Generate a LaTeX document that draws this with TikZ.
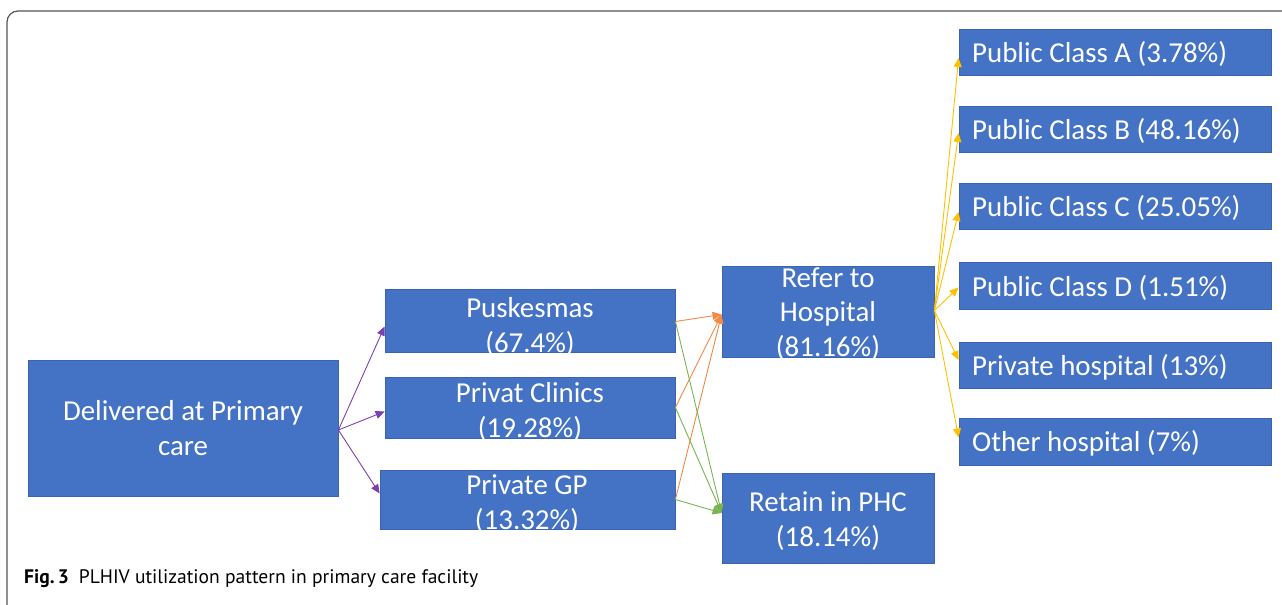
\documentclass[tikz,border=0pt]{standalone}
\usepackage{fontspec}
\setmainfont{Carlito}
\newfontfamily\capfont{PT Sans}
\usetikzlibrary{arrows.meta,calc}
\definecolor{boxblue}{HTML}{4472C4}
\definecolor{boxedge}{HTML}{3A64B0}
\definecolor{purp}{HTML}{7B3FB0}
\definecolor{oran}{HTML}{F08A45}
\definecolor{gree}{HTML}{78B450}
\definecolor{yell}{HTML}{FFC000}
\definecolor{frame}{HTML}{555555}
\tikzset{
  box/.style={draw=boxedge, line width=0.8bp, fill=boxblue, inner sep=0pt},
  btext/.style={text=white, align=center, inner sep=0pt, font=\fontsize{29}{35}\selectfont},
  rtext/.style={text=white, anchor=west, inner sep=0pt, font=\fontsize{29}{35}\selectfont},
  conn/.style={line width=0.9bp, -{Triangle[length=9bp,width=8bp]}},
}
\begin{document}
\begin{tikzpicture}[x=1bp,y=-1bp]
\useasboundingbox (0,0) rectangle (1282,605);
% frame
\draw[frame, line width=1.2bp, rounded corners=11bp] (7,605) -- (7,11) -- (1282,11);
% boxes
\node[box, minimum width=310bp, minimum height=136bp] (del) at (183,428) {};
\node[box, minimum width=290bp, minimum height=63bp] (pus) at (530,320.5) {};
\node[box, minimum width=290bp, minimum height=61bp] (cli) at (530,407.5) {};
\node[box, minimum width=295bp, minimum height=59bp] (gp) at (527.5,499.5) {};
\node[box, minimum width=212bp, minimum height=91bp] (ref) at (828,311.5) {};
\node[box, minimum width=212bp, minimum height=90bp] (ret) at (828,518) {};
\node[box, minimum width=312bp, minimum height=46bp] (ca) at (1115,52) {};
\node[box, minimum width=312bp, minimum height=46bp] (cb) at (1115,129) {};
\node[box, minimum width=312bp, minimum height=46bp] (cc) at (1115,206) {};
\node[box, minimum width=312bp, minimum height=47bp] (cd) at (1115,285.5) {};
\node[box, minimum width=312bp, minimum height=46bp] (cp) at (1115,365) {};
\node[box, minimum width=312bp, minimum height=47bp] (co) at (1115,441.5) {};
% texts
\node[btext] (tdel) at (183,428) {Delivered at Primary\\care};
\node[btext] (tpus) at (530,327) {Puskesmas\\(67.4\%)};
\node[btext] (tcli) at (530,412) {Privat Clinics\\(19.28\%)};
\node[btext] (tgp) at (527,504) {Private GP\\(13.32\%)};
\node[btext] (tref) at (828,314) {Refer to\\Hospital\\(81.16\%)};
\node[btext] (tret) at (828,521) {Retain in PHC\\(18.14\%)};
\node[rtext] (tca) at (972,54) {Public Class A (3.78\%)};
\node[rtext] (tcb) at (972,131) {Public Class B (48.16\%)};
\node[rtext] (tcc) at (972,208) {Public Class C (25.05\%)};
\node[rtext] (tcd) at (972,287.5) {Public Class D (1.51\%)};
\node[rtext] (tcp) at (972,367) {Private hospital (13\%)};
\node[rtext] (tco) at (972,443.5) {Other hospital (7\%)};
% purple connectors
\draw[conn, purp] ([yshift=-2bp]del.east) -- ([yshift=-6bp]pus.west);
\draw[conn, purp] ([yshift=-2bp]del.east) -- ([yshift=-4bp]cli.west);
\draw[conn, purp] ([yshift=-2bp]del.east) -- ([yshift=6bp]gp.west);
% orange connectors
\draw[conn, oran] ([yshift=-1bp]pus.east) -- ([yshift=-3bp]ref.west);
\draw[conn, oran] (cli.east) -- ([yshift=-3bp]ref.west);
\draw[conn, oran] (gp.east) -- ([yshift=-3bp]ref.west);
% green connectors
\draw[conn, gree] ([yshift=-1bp]pus.east) -- ([yshift=5bp]ret.west);
\draw[conn, gree] (cli.east) -- ([yshift=5bp]ret.west);
\draw[conn, gree] (gp.east) -- ([yshift=5bp]ret.west);
% yellow connectors
\draw[conn, yell] ([yshift=1bp]ref.east) -- ([yshift=-6bp]ca.west);
\draw[conn, yell] ([yshift=1bp]ref.east) -- ([yshift=-4bp]cb.west);
\draw[conn, yell] ([yshift=1bp]ref.east) -- ([yshift=-6bp]cc.west);
\draw[conn, yell] ([yshift=1bp]ref.east) -- ([yshift=-2bp]cd.west);
\draw[conn, yell] ([yshift=1bp]ref.east) -- ([yshift=5bp]cp.west);
\draw[conn, yell] ([yshift=1bp]ref.east) -- ([yshift=4bp]co.west);
% caption
\node[anchor=base west, inner sep=0pt] (cap) at (24,583) {\resizebox{454bp}{!}{\capfont\textbf{Fig.\,3}\hspace{0.5em}PLHIV utilization pattern in primary care facility}};
\end{tikzpicture}
\end{document}
